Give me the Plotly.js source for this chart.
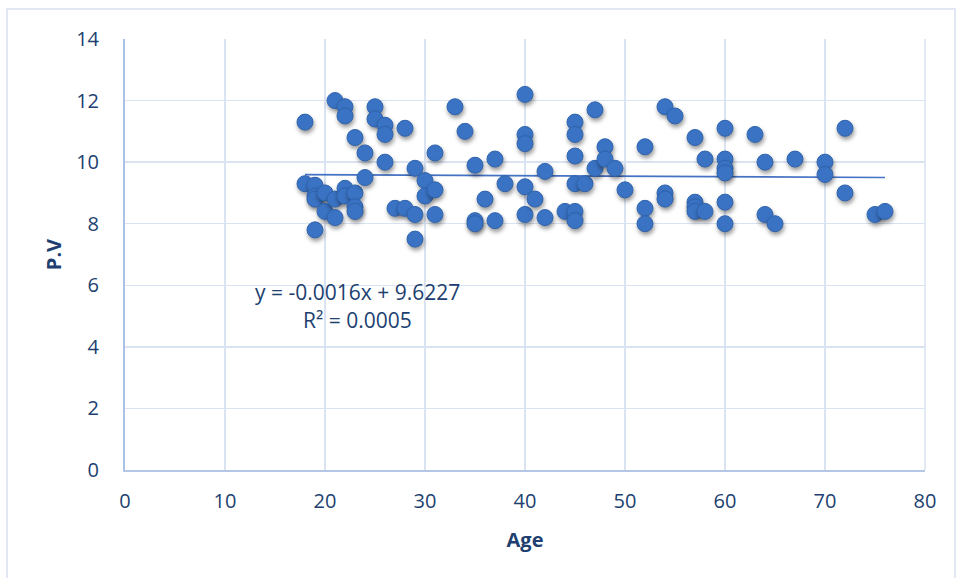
<!DOCTYPE html>
<html>
<head>
<meta charset="utf-8">
<script src="https://cdn.plot.ly/plotly-3.0.1.min.js"></script>
<style>
  html, body { margin: 0; padding: 0; background: #ffffff; }
  #chart { width: 956px; height: 578px; }
  /* soft drop shadow under each scatter marker */
  #chart .scatterlayer .trace .points path {
    filter: drop-shadow(1px 3px 2px rgba(0, 0, 0, 0.4));
  }
</style>
</head>
<body>
<div id="chart"></div>
<script>
// Age of each subject
const age = [
  18, 18,
  19, 19, 19, 19,
  20, 20,
  21, 21, 21,
  22, 22, 22, 22,
  23, 23, 23, 23,
  24, 24,
  25, 25,
  26, 26, 26,
  27,
  28, 28,
  29, 29, 29,
  30, 30,
  31, 31, 31,
  33,
  34,
  35, 35, 35,
  36,
  37, 37,
  38,
  40, 40, 40, 40, 40,
  41,
  42, 42,
  44,
  45, 45, 45, 45, 45, 45,
  46,
  47, 47,
  48, 48,
  49,
  50,
  52, 52, 52,
  54, 54, 54,
  55,
  57, 57, 57, 57,
  58, 58,
  60, 60, 60, 60, 60, 60,
  63,
  64, 64,
  65,
  67,
  70, 70,
  72, 72,
  75, 76
];

// Measured P.V for each subject
const pv = [
  11.3, 9.3,
  9.25, 8.9, 8.8, 7.8,
  9.0, 8.4,
  12.0, 8.8, 8.2,
  11.8, 11.5, 9.15, 8.9,
  10.8, 9.0, 8.55, 8.4,
  10.3, 9.5,
  11.8, 11.4,
  11.2, 10.9, 10.0,
  8.5,
  11.1, 8.5,
  9.8, 8.3, 7.5,
  9.4, 8.9,
  10.3, 9.1, 8.3,
  11.8,
  11.0,
  9.9, 8.1, 8.0,
  8.8,
  10.1, 8.1,
  9.3,
  12.2, 10.9, 10.6, 9.2, 8.3,
  8.8,
  9.7, 8.2,
  8.4,
  11.3, 10.9, 10.2, 9.3, 8.4, 8.1,
  9.3,
  11.7, 9.8,
  10.5, 10.1,
  9.8,
  9.1,
  10.5, 8.5, 8.0,
  11.8, 9.0, 8.8,
  11.5,
  10.8, 8.7, 8.55, 8.4,
  10.1, 8.4,
  11.1, 10.1, 9.8, 9.65, 8.7, 8.0,
  10.9,
  10.0, 8.3,
  8.0,
  10.1,
  10.0, 9.6,
  11.1, 9.0,
  8.3, 8.4
];

// Linear trendline fitted to the data
const slope = -0.0016;
const intercept = 9.6227;
const rSquared = 0.0005;
const trendX = [Math.min(...age), Math.max(...age)];
const trendY = trendX.map(x => slope * x + intercept);

const xTicks = [0, 10, 20, 30, 40, 50, 60, 70, 80];
const yTicks = [0, 2, 4, 6, 8, 10, 12, 14];

const textColor = '#203F70';
const gridColor = '#D9E3F2';
const font = 'Open Sans, Lato, Noto Sans, sans-serif';

const points = {
  type: 'scatter',
  mode: 'markers',
  x: age,
  y: pv,
  marker: {
    size: 16,
    color: '#3A73C3',
    line: { color: '#2F63AD', width: 1 }
  },
  hoverinfo: 'x+y',
  showlegend: false
};

const trend = {
  type: 'scatter',
  mode: 'lines',
  x: trendX,
  y: trendY,
  line: { color: '#4472C4', width: 1.6 },
  hoverinfo: 'skip',
  showlegend: false
};

const eqText = 'y = ' + slope.toFixed(4) + 'x + ' + intercept.toFixed(4);
const r2Text = 'R² = ' + rSquared.toFixed(4);

const layout = {
  width: 956,
  height: 578,
  margin: { l: 125, r: 31, t: 39, b: 108 },
  paper_bgcolor: '#ffffff',
  plot_bgcolor: '#ffffff',
  font: { family: font, size: 20, color: textColor },
  xaxis: {
    range: [0, 80],
    tickvals: xTicks,
    ticktext: xTicks.map(String),
    showgrid: true,
    gridcolor: gridColor,
    gridwidth: 1.5,
    zeroline: false,
    showline: true,
    linecolor: '#B4C7E7',
    linewidth: 1.5,
    ticks: '',
    ticklabelstandoff: 12,
    tickfont: { family: font, size: 20, color: textColor },
    title: {
      text: '<b>Age</b>',
      font: { family: font, size: 20, color: textColor },
      standoff: 20
    }
  },
  yaxis: {
    range: [0, 14],
    tickvals: yTicks,
    ticktext: yTicks.map(String),
    showgrid: true,
    gridcolor: gridColor,
    gridwidth: 1.5,
    zeroline: false,
    showline: true,
    linecolor: '#A9C1E6',
    linewidth: 2,
    ticks: '',
    ticklabelstandoff: 20,
    tickfont: { family: font, size: 20, color: textColor },
    title: {
      text: '<b>P.V</b>',
      font: { family: font, size: 20, color: textColor },
      standoff: 9
    }
  },
  shapes: [
    // right edge of the plot area
    {
      type: 'line', xref: 'paper', yref: 'paper',
      x0: 1, x1: 1, y0: 0, y1: 1,
      line: { color: gridColor, width: 1.5 }
    },
    // chart area frame
    {
      type: 'rect', xref: 'paper', yref: 'paper',
      x0: -0.1475, x1: 1.0375, y0: -0.27, y1: 1.0696,
      line: { color: '#D7E1EF', width: 1.5 },
      fillcolor: 'rgba(0,0,0,0)',
      layer: 'below'
    }
  ],
  annotations: [
    {
      xref: 'x', yref: 'y', x: 23.2, y: 5.78,
      text: eqText, showarrow: false,
      font: { family: font, size: 21, color: textColor },
      xanchor: 'center', yanchor: 'middle'
    },
    {
      xref: 'x', yref: 'y', x: 23.2, y: 4.87,
      text: r2Text, showarrow: false,
      font: { family: font, size: 21, color: textColor },
      xanchor: 'center', yanchor: 'middle'
    }
  ]
};

Plotly.newPlot('chart', [trend, points], layout, { displayModeBar: false, staticPlot: true });
</script>
</body>
</html>
